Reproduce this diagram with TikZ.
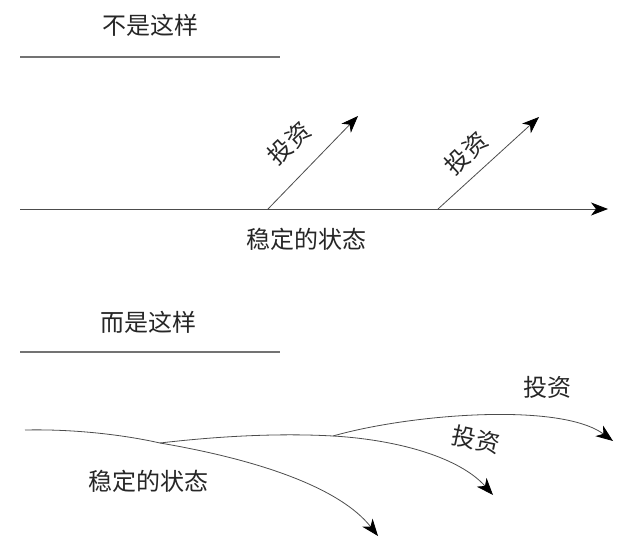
\documentclass[tikz,border=0pt]{standalone}
\usepackage{fontspec}
\newfontfamily\cjk{Noto Sans CJK SC}
\usetikzlibrary{arrows.meta}
\begin{document}
\begin{tikzpicture}[x=1pt,y=-1pt,
  lbl/.style={font=\cjk\fontsize{24}{28}\selectfont, text=black!85, inner sep=0pt},
  rule/.style={draw=black!55, line width=1.4pt},
  flow/.style={draw=black!70, line width=0.8pt, -{Stealth[length=17pt,width=13pt,inset=5pt,color=black]}},
  plain/.style={draw=black!70, line width=0.8pt}]
\useasboundingbox (0,0) rectangle (640,548);
% top part
\node[lbl] (t1) at (150,25) {不是这样};
\coordinate (r1a) at (20,57);
\coordinate (r1b) at (280,57);
\draw[rule] (r1a) -- (r1b);
\coordinate (ax0) at (20,209);
\coordinate (ax1) at (608,209);
\draw[flow] (ax0) -- (ax1);
\coordinate (b1) at (268,209);
\coordinate (e1) at (358,116);
\coordinate (b2) at (438,209);
\coordinate (e2) at (539,117);
\draw[flow] (b1) -- (e1);
\draw[flow] (b2) -- (e2);
\node[lbl, rotate=43] (i1) at (289,143) {投资};
\node[lbl, rotate=43] (i2) at (466,153) {投资};
\node[lbl] (s1) at (306,239) {稳定的状态};
% bottom part
\node[lbl] (t2) at (148,322) {而是这样};
\coordinate (r2a) at (20,352);
\coordinate (r2b) at (280,352);
\draw[rule] (r2a) -- (r2b);
\coordinate (c0) at (25,430);
\coordinate (p1) at (160,443);
\coordinate (p2) at (333,436);
\coordinate (q1) at (378,536);
\coordinate (q2) at (493,495);
\coordinate (q3) at (613,441);
\draw[plain] (c0) .. controls (70,429) and (120,434) .. (p1);
\draw[flow] (p1) .. controls (260,460) and (340,488) .. (q1);
\draw[plain] (p1) .. controls (220,436) and (280,433) .. (p2);
\draw[flow] (p2) .. controls (400,440) and (460,458) .. (q2);
\draw[flow] (p2) .. controls (410,414) and (560,402) .. (q3);
\node[lbl] (s2) at (148,481) {稳定的状态};
\node[lbl] (i3) at (547,387) {投资};
\node[lbl, rotate=-12] (i4) at (476,440) {投资};
\end{tikzpicture}
\end{document}
